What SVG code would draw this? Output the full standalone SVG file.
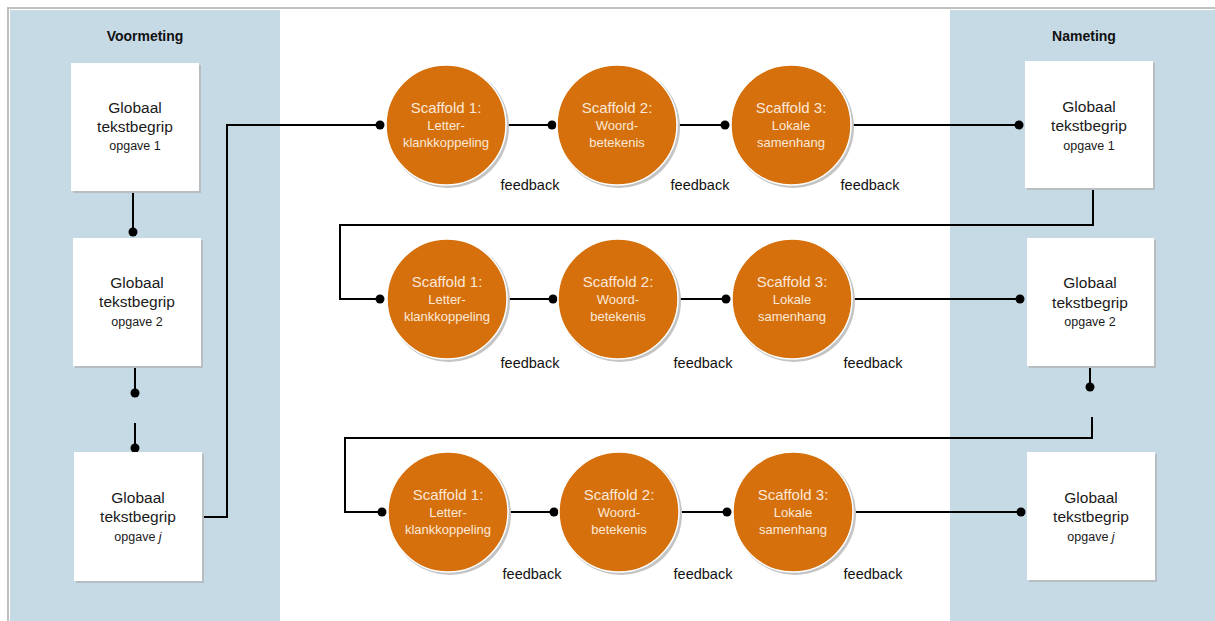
<svg xmlns="http://www.w3.org/2000/svg" width="1215" height="621" viewBox="0 0 1215 621">
<defs>
<style>
.panel{fill:#C6DAE5}
.box{fill:#FFFFFF}
.shadow{fill:#B8BDC2}
.bt{font-family:"Liberation Sans",Arial,sans-serif;fill:#1a1a1a;text-anchor:middle}
.b1{font-size:15.5px}
.b2{font-size:12.5px}
.title{font-family:"Liberation Sans",Arial,sans-serif;font-weight:bold;font-size:14px;fill:#111;text-anchor:middle}
.circ{fill:#D5700C;stroke:#FFFFFF;stroke-width:1.5}
.cshadow{fill:#C4C4C4}
.ct{font-family:"Liberation Sans",Arial,sans-serif;fill:#FCE8D8;text-anchor:middle}
.c1{font-size:15px}
.c2{font-size:13px}
.fb{font-family:"Liberation Sans",Arial,sans-serif;font-size:14.5px;fill:#111;text-anchor:middle}
.ln{fill:none;stroke:#000;stroke-width:2}
.dot{fill:#000}
</style>
</defs>
<rect x="0" y="0" width="1215" height="621" fill="#FFFFFF"/>
<path d="M8,621 V8 H1215" fill="none" stroke="#C0C0C0" stroke-width="2"/>
<rect class="panel" x="10" y="10" width="270" height="611"/>
<rect class="panel" x="950" y="10" width="265" height="611"/>
<text class="title" x="145" y="41">Voormeting</text>
<text class="title" x="1084" y="41">Nameting</text>

<g id="connectors">
<path class="ln" d="M133,191 V232"/>
<circle class="dot" cx="133" cy="232" r="4.5"/>
<path class="ln" d="M135,366 V393"/>
<circle class="dot" cx="135" cy="393" r="4.5"/>
<path class="ln" d="M135,423 V448"/>
<circle class="dot" cx="135" cy="448" r="4.5"/>
<path class="ln" d="M202,517 H227 V125 H380"/>
<circle class="dot" cx="380" cy="125" r="4.5"/>
<path class="ln" d="M507,125 H552"/>
<circle class="dot" cx="552" cy="125" r="4.5"/>
<path class="ln" d="M678,125 H725"/>
<circle class="dot" cx="725" cy="125" r="4.5"/>
<path class="ln" d="M852,125 H1019"/>
<circle class="dot" cx="1019" cy="125" r="4.5"/>
<path class="ln" d="M1093,188 V225 H340 V299 H380"/>
<circle class="dot" cx="380" cy="299" r="4.5"/>
<path class="ln" d="M508,299 H553"/>
<circle class="dot" cx="553" cy="299" r="4.5"/>
<path class="ln" d="M679,299 H726"/>
<circle class="dot" cx="726" cy="299" r="4.5"/>
<path class="ln" d="M853,299 H1020"/>
<circle class="dot" cx="1020" cy="299" r="4.5"/>
<path class="ln" d="M1090,366 V387"/>
<circle class="dot" cx="1090" cy="387" r="4.5"/>
<path class="ln" d="M1092,417 V438 H345 V512 H382"/>
<circle class="dot" cx="382" cy="512" r="4.5"/>
<path class="ln" d="M509,512 H554"/>
<circle class="dot" cx="554" cy="512" r="4.5"/>
<path class="ln" d="M680,512 H727"/>
<circle class="dot" cx="727" cy="512" r="4.5"/>
<path class="ln" d="M854,512 H1021"/>
<circle class="dot" cx="1021" cy="512" r="4.5"/>
</g>

<g id="pre1">
<rect class="shadow" x="73" y="65" width="128" height="128"/>
<rect class="box" x="71" y="63" width="128" height="128"/>
<text class="bt b1" x="135" y="113">Globaal</text>
<text class="bt b1" x="135" y="132">tekstbegrip</text>
<text class="bt b2" x="135" y="150">opgave 1</text>
</g>
<g id="pre2">
<rect class="shadow" x="75" y="240" width="128" height="128"/>
<rect class="box" x="73" y="238" width="128" height="128"/>
<text class="bt b1" x="137" y="288">Globaal</text>
<text class="bt b1" x="137" y="307">tekstbegrip</text>
<text class="bt b2" x="137" y="326">opgave 2</text>
</g>
<g id="prej">
<rect class="shadow" x="76" y="454" width="128" height="129"/>
<rect class="box" x="74" y="452" width="128" height="129"/>
<text class="bt b1" x="138" y="503">Globaal</text>
<text class="bt b1" x="138" y="522">tekstbegrip</text>
<text class="bt b2" x="138" y="541">opgave <tspan font-style="italic">j</tspan></text>
</g>

<g id="post1">
<rect class="shadow" x="1027" y="63" width="128" height="127"/>
<rect class="box" x="1025" y="61" width="128" height="127"/>
<text class="bt b1" x="1089" y="112">Globaal</text>
<text class="bt b1" x="1089" y="131">tekstbegrip</text>
<text class="bt b2" x="1089" y="150">opgave 1</text>
</g>
<g id="post2">
<rect class="shadow" x="1029" y="240" width="127" height="128"/>
<rect class="box" x="1027" y="238" width="127" height="128"/>
<text class="bt b1" x="1090" y="288">Globaal</text>
<text class="bt b1" x="1090" y="308">tekstbegrip</text>
<text class="bt b2" x="1090" y="326">opgave 2</text>
</g>
<g id="postj">
<rect class="shadow" x="1029" y="454" width="128" height="128"/>
<rect class="box" x="1027" y="452" width="128" height="128"/>
<text class="bt b1" x="1091" y="503">Globaal</text>
<text class="bt b1" x="1091" y="522">tekstbegrip</text>
<text class="bt b2" x="1091" y="541">opgave <tspan font-style="italic">j</tspan></text>
</g>

<g id="r1s1">
<circle class="cshadow" cx="448" cy="127" r="61"/>
<circle class="circ" cx="446" cy="125" r="60"/>
<text class="ct c1" x="446" y="113">Scaffold 1:</text>
<text class="ct c2" x="446" y="130">Letter-</text>
<text class="ct c2" x="446" y="147">klankkoppeling</text>
</g>
<g id="r1s2">
<circle class="cshadow" cx="619" cy="127" r="61"/>
<circle class="circ" cx="617" cy="125" r="60"/>
<text class="ct c1" x="617" y="113">Scaffold 2:</text>
<text class="ct c2" x="617" y="130">Woord-</text>
<text class="ct c2" x="617" y="147">betekenis</text>
</g>
<g id="r1s3">
<circle class="cshadow" cx="793" cy="127" r="61"/>
<circle class="circ" cx="791" cy="125" r="60"/>
<text class="ct c1" x="791" y="113">Scaffold 3:</text>
<text class="ct c2" x="791" y="130">Lokale</text>
<text class="ct c2" x="791" y="147">samenhang</text>
</g>

<g id="r2s1">
<circle class="cshadow" cx="449" cy="301" r="61"/>
<circle class="circ" cx="447" cy="299" r="60"/>
<text class="ct c1" x="447" y="287">Scaffold 1:</text>
<text class="ct c2" x="447" y="304">Letter-</text>
<text class="ct c2" x="447" y="321">klankkoppeling</text>
</g>
<g id="r2s2">
<circle class="cshadow" cx="620" cy="301" r="61"/>
<circle class="circ" cx="618" cy="299" r="60"/>
<text class="ct c1" x="618" y="287">Scaffold 2:</text>
<text class="ct c2" x="618" y="304">Woord-</text>
<text class="ct c2" x="618" y="321">betekenis</text>
</g>
<g id="r2s3">
<circle class="cshadow" cx="794" cy="301" r="61"/>
<circle class="circ" cx="792" cy="299" r="60"/>
<text class="ct c1" x="792" y="287">Scaffold 3:</text>
<text class="ct c2" x="792" y="304">Lokale</text>
<text class="ct c2" x="792" y="321">samenhang</text>
</g>

<g id="r3s1">
<circle class="cshadow" cx="450" cy="514" r="61"/>
<circle class="circ" cx="448" cy="512" r="60"/>
<text class="ct c1" x="448" y="500">Scaffold 1:</text>
<text class="ct c2" x="448" y="517">Letter-</text>
<text class="ct c2" x="448" y="534">klankkoppeling</text>
</g>
<g id="r3s2">
<circle class="cshadow" cx="621" cy="514" r="61"/>
<circle class="circ" cx="619" cy="512" r="60"/>
<text class="ct c1" x="619" y="500">Scaffold 2:</text>
<text class="ct c2" x="619" y="517">Woord-</text>
<text class="ct c2" x="619" y="534">betekenis</text>
</g>
<g id="r3s3">
<circle class="cshadow" cx="795" cy="514" r="61"/>
<circle class="circ" cx="793" cy="512" r="60"/>
<text class="ct c1" x="793" y="500">Scaffold 3:</text>
<text class="ct c2" x="793" y="517">Lokale</text>
<text class="ct c2" x="793" y="534">samenhang</text>
</g>

<g id="feedback">
<text class="fb" x="530" y="190">feedback</text>
<text class="fb" x="700" y="190">feedback</text>
<text class="fb" x="870" y="190">feedback</text>
<text class="fb" x="530" y="368">feedback</text>
<text class="fb" x="703" y="368">feedback</text>
<text class="fb" x="873" y="368">feedback</text>
<text class="fb" x="532" y="579">feedback</text>
<text class="fb" x="703" y="579">feedback</text>
<text class="fb" x="873" y="579">feedback</text>
</g>
</svg>
